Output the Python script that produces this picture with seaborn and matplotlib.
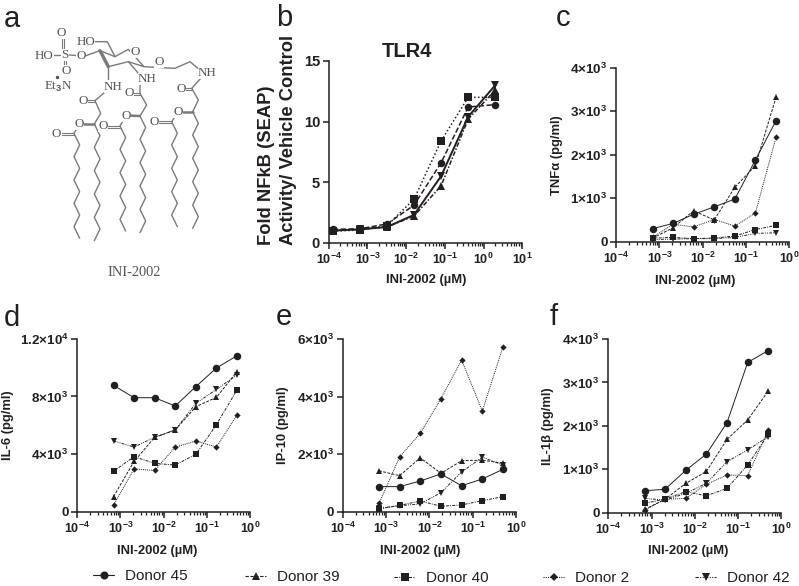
import matplotlib
matplotlib.use("Agg")
import matplotlib.pyplot as plt
import seaborn as sns
from matplotlib.lines import Line2D
from matplotlib.ticker import FixedLocator, NullFormatter

W, H = 799, 586
INK = "#231f20"
STRUCT = "#7a7a7a"

sns.set_theme(style="ticks")
plt.rcParams["font.family"] = ["Liberation Sans", "DejaVu Sans"]
plt.rcParams["mathtext.fontset"] = "custom"
plt.rcParams["mathtext.rm"] = "Liberation Sans:bold"
plt.rcParams["mathtext.default"] = "rm"

# ---- data ----
tlr4_dose = [1.28e-4, 6.4e-4, 3.2e-3, 1.6e-2, 8e-2, 0.4, 2.0]
tlr4_circle = [1.1, 1.15, 1.55, 3.1, 6.6, 11.2, 11.4]
tlr4_square = [0.95, 1.05, 1.4, 3.6, 8.4, 12.0, 12.0]
tlr4_up = [1.0, 1.1, 1.3, 2.2, 4.7, 10.2, 12.6]
tlr4_down = [1.0, 1.1, 1.3, 2.3, 5.5, 10.4, 13.0]

dose = [6.9e-4, 2.06e-3, 6.17e-3, 1.85e-2, 5.56e-2, 0.167, 0.5]
donors = ["Donor 45", "Donor 39", "Donor 40", "Donor 2", "Donor 42"]

tnf_45 = [300, 420, 630, 800, 980, 1880, 2780]
tnf_39 = [80, 320, 710, 500, 1250, 1750, 3320]
tnf_40 = [80, 100, 70, 85, 130, 280, 375]
tnf_2 = [100, 400, 340, 510, 360, 660, 2400]
tnf_42 = [50, 60, 70, 70, 100, 190, 205]

il6_45 = [8770, 7915, 7915, 7340, 8680, 9970, 10820]
il6_39 = [1060, 3500, 5170, 5680, 7290, 7940, 9720]
il6_40 = [2820, 3830, 3370, 3250, 3990, 6050, 8450]
il6_2 = [480, 2980, 2880, 4480, 4920, 4500, 6720]
il6_42 = [4920, 4500, 5170, 5680, 7520, 8490, 9490]

ip10_45 = [880, 880, 1075, 1320, 910, 1145, 1480]
ip10_39 = [1430, 1260, 1880, 1340, 1780, 1800, 1690]
ip10_40 = [105, 230, 380, 200, 245, 395, 530]
ip10_2 = [300, 1910, 2730, 3930, 5270, 3500, 5730]
ip10_42 = [130, 220, 280, 670, 1390, 1900, 1630]

il1b_45 = [505, 540, 975, 1350, 2075, 3460, 3735]
il1b_39 = [75, 310, 675, 950, 1690, 2135, 2805]
il1b_40 = [215, 315, 485, 390, 560, 1100, 1805]
il1b_2 = [60, 310, 330, 650, 870, 855, 1900]
il1b_42 = [330, 290, 445, 675, 1175, 1445, 1750]

# ---- styles ----
MARK = {"Donor 45": ("o", 5.4, "-"),
        "Donor 39": ("^", 4.9, (0, (3, 1.4))),
        "Donor 40": ("s", 4.7, (0, (3, 1.2, 1, 1.2))),
        "Donor 2": ("D", 3.2, (0, (1, 1))),
        "Donor 42": ("v", 4.9, (0, (3, 1.2, 1, 1.2, 1, 1.2)))}

fig = plt.figure(figsize=(W / 100, H / 100), dpi=100)
fig.patch.set_facecolor("white")


def make_ax(x0, x1, ytop, ybot):
    ax = fig.add_axes([x0 / W, 1 - ybot / H, (x1 - x0) / W, (ybot - ytop) / H])
    ax.set_facecolor("none")
    return ax


def style_ax(ax, box, xmax_exp, yticks, ylabels, ymax, ylabel, xlab_xy, ylab_x,
             xsize=9, ysize=9.7, labsize=9.4):
    x0, x1, ytop, ybot = box
    ax.set_xscale("log")
    ax.set_xlim(1e-4, 10.0 ** xmax_exp)
    ax.set_ylim(0, ymax)
    majors = [10.0 ** e for e in range(-4, xmax_exp + 1)]
    ax.xaxis.set_major_locator(FixedLocator(majors))
    ax.set_xticklabels([f"10$^{{{e}}}$" for e in range(-4, xmax_exp + 1)],
                        fontsize=xsize, fontweight="bold", color=INK)
    minors = [m * 10.0 ** e for e in range(-4, xmax_exp) for m in range(2, 10)]
    ax.xaxis.set_minor_locator(FixedLocator(minors))
    ax.xaxis.set_minor_formatter(NullFormatter())
    ax.set_yticks(yticks)
    ax.set_yticklabels(ylabels, fontsize=ysize, fontweight="bold", color=INK)
    sns.despine(ax=ax)
    for s in ("left", "bottom"):
        ax.spines[s].set_linewidth(1.1)
        ax.spines[s].set_color(INK)
    ax.tick_params(axis="both", which="major", length=4.2, width=1.1, color=INK, pad=2)
    ax.tick_params(axis="x", which="minor", length=2.3, width=0.9, color=INK)
    ax.set_xlabel("INI-2002 (µM)", fontsize=labsize, fontweight="bold", color=INK, va="center")
    ax.set_ylabel(ylabel, fontsize=labsize, fontweight="bold", color=INK, va="center")
    ax.xaxis.set_label_coords((xlab_xy[0] - x0) / (x1 - x0), -(xlab_xy[1] - ybot) / (ybot - ytop))
    ax.yaxis.set_label_coords((ylab_x - x0) / (x1 - x0), 0.5)


def draw(ax, xs, ys, name, lw=0.7):
    m, ms, ls = MARK[name]
    sns.lineplot(x=xs, y=ys, ax=ax, color=INK, marker=m, markersize=ms,
                 markeredgewidth=0, linewidth=lw, linestyle=ls, errorbar=None,
                 clip_on=False, zorder=3)


# ---- panel b ----
box_b = (328.7, 522.3, 61, 242.7)
ax_b = make_ax(*box_b)
ax_b.set_xscale("log")
sns.lineplot(x=tlr4_dose, y=tlr4_circle, ax=ax_b, color=INK, marker="o", markersize=5.4,
             markeredgewidth=0, linewidth=1.1, linestyle=(0, (3.5, 1.6)), errorbar=None, clip_on=False)
sns.lineplot(x=tlr4_dose, y=tlr4_square, ax=ax_b, color=INK, marker="s", markersize=5.4,
             markeredgewidth=0, linewidth=1.1, linestyle=(0, (1, 1.5)), errorbar=None, clip_on=False)
sns.lineplot(x=tlr4_dose, y=tlr4_up, ax=ax_b, color=INK, marker="^", markersize=5.4,
             markeredgewidth=0, linewidth=1.1, linestyle=(0, (3, 1.2, 1, 1.2)), errorbar=None, clip_on=False)
sns.lineplot(x=tlr4_dose, y=tlr4_down, ax=ax_b, color=INK, marker="v", markersize=5.4,
             markeredgewidth=0, linewidth=1.4, linestyle="-", errorbar=None, clip_on=False)
style_ax(ax_b, box_b, 1, [0, 5, 10, 15], ["0", "5", "10", "15"], 15,
         "Fold NFkB (SEAP)\nActivity/ Vehicle Control", (425.7, 280), 277,
         xsize=9, ysize=10.6)
ax_b.yaxis.label.set_size(13.2)
ax_b.yaxis.label.set_multialignment("left")
ax_b.yaxis.label.set_linespacing(1.4)
ax_b.yaxis.set_label_coords((277.5 - box_b[0]) / (box_b[1] - box_b[0]), (242.7 - 140) / 181.7)
ax_b.set_title("TLR4", fontsize=14.5, fontweight="bold", color=INK, pad=2, x=0.405)

# ---- panels c-f ----
panels = [
    ((616.3, 789, 67.7, 241.7), [tnf_45, tnf_39, tnf_40, tnf_2, tnf_42], 4000,
     [0, 1000, 2000, 3000, 4000], ["0", "1×10$^{3}$", "2×10$^{3}$", "3×10$^{3}$", "4×10$^{3}$"],
     "TNFα (pg/ml)", (695, 281), 557),
    ((77.3, 250, 338.7, 512), [il6_45, il6_39, il6_40, il6_2, il6_42], 12000,
     [0, 4000, 8000, 12000], ["0", "4×10$^{3}$", "8×10$^{3}$", "1.2×10$^{4}$"],
     "IL-6 (pg/ml)", (157, 551), 8),
    ((342.7, 516, 339, 512), [ip10_45, ip10_39, ip10_40, ip10_2, ip10_42], 6000,
     [0, 2000, 4000, 6000], ["0", "2×10$^{3}$", "4×10$^{3}$", "6×10$^{3}$"],
     "IP-10 (pg/ml)", (420, 551), 283),
    ((608.3, 781.3, 339, 512.7), [il1b_45, il1b_39, il1b_40, il1b_2, il1b_42], 4000,
     [0, 1000, 2000, 3000, 4000], ["0", "1×10$^{3}$", "2×10$^{3}$", "3×10$^{3}$", "4×10$^{3}$"],
     "IL-1β (pg/ml)", (688, 551), 548),
]
for box, series, ymax, ticks, labels, ylabel, xlab_xy, ylab_x in panels:
    ax = make_ax(*box)
    ax.set_xscale("log")
    for name, values in zip(donors, series):
        draw(ax, dose, values, name)
    style_ax(ax, box, 0, ticks, labels, ymax, ylabel, xlab_xy, ylab_x)

# ---- legend row (one legend per donor, slightly staggered as in the figure) ----
legend_pos = {"Donor 45": (93, 576), "Donor 39": (245, 577), "Donor 40": (394, 578.5),
              "Donor 2": (543, 578.5), "Donor 42": (695, 578)}
for name in donors:
    m, ms, ls = MARK[name]
    handle = Line2D([], [], color=INK, marker=m, markersize=ms + 0.4, markeredgewidth=0,
                    linewidth=0.8, linestyle=ls, label=name)
    px, py = legend_pos[name]
    lg = fig.legend(handles=[handle], loc="center left", frameon=False,
                    bbox_to_anchor=(px / W, 1 - py / H), borderaxespad=0, borderpad=0,
                    handlelength=1.4, handletextpad=0.7, fontsize=11)
    for t in lg.get_texts():
        t.set_color(INK)

# ---- panel letters ----
for letter, x, y in [("a", 4, 27), ("b", 276, 26), ("c", 556, 26),
                     ("d", 4, 326), ("e", 276, 325), ("f", 550, 325)]:
    fig.text(x / W, 1 - y / H, letter, fontsize=21, color=INK, ha="left", va="baseline")

# ---- panel a: chemical structure sketch ----
sk = fig.add_axes([0, 0, 1, 1], zorder=-1)
sk.set_xlim(0, W)
sk.set_ylim(H, 0)
sk.axis("off")


def seg(points, lw=1.0):
    sk.plot([p[0] / 3 for p in points], [p[1] / 3 for p in points],
            color=STRUCT, lw=lw, solid_capstyle="round", solid_joinstyle="round")


def atom(x, y, s, size=9.4):
    sk.text(x / 3, y / 3, s, fontsize=size, family="Liberation Serif", color="#555555",
            ha="center", va="center",
            bbox=dict(facecolor="white", edgecolor="none", pad=0.3))


def zigzag(x0, y0, n, dx=17, dy=35):
    pts = [(x0, y0)]
    for i in range(n):
        sign = 1 if i % 2 == 0 else -1
        pts.append((pts[-1][0] + sign * dx, pts[-1][1] + dy))
    seg(pts)


for x0, y0, n in [(222, 400, 9), (283, 372, 10), (360, 378, 9), (420, 348, 10),
                  (515, 365, 9), (578, 335, 10)]:
    zigzag(x0, y0, n)

# sugar ring and substituents
seg([(300, 152), (345, 170), (385, 148), (432, 200), (385, 185), (325, 200)])
seg([(300, 152), (325, 200)], lw=2.4)
seg([(345, 170), (322, 125), (285, 125)])
seg([(325, 200), (325, 250)])
seg([(320, 272), (285, 302), (302, 340), (283, 372)])
seg([(385, 185), (422, 228)])
seg([(420, 255), (420, 280), (440, 315), (420, 348)])
seg([(432, 200), (525, 205), (570, 185), (602, 212)])
seg([(605, 232), (575, 265), (595, 300), (578, 335)])
seg([(238, 372), (222, 400)])
seg([(378, 347), (360, 378)])
seg([(535, 335), (515, 365)])
seg([(252, 372), (283, 372)], lw=1.8)
seg([(392, 347), (420, 348)], lw=1.8)
seg([(548, 335), (578, 335)], lw=1.8)
for a, b in [((185, 402), (222, 402)), ((262, 303), (285, 303)), ((398, 281), (420, 281)),
             ((552, 267), (575, 267)), ((322, 380), (360, 380)), ((478, 367), (515, 367))]:
    seg([(a[0], a[1] - 3), (b[0], b[1] - 3)], lw=0.8)
    seg([(a[0], a[1] + 3), (b[0], b[1] + 3)], lw=0.8)
seg([(150, 165), (180, 165)])
seg([(208, 165), (232, 167)])
seg([(255, 168), (300, 152)])
for off in (-3, 3):
    seg([(190 + off, 115), (190 + off, 150)], lw=0.8)
    seg([(195 + off, 178), (195 + off, 200)], lw=0.8)

for x, y, s in [(185, 98, "O"), (195, 165, "S"), (132, 167, "HO"), (198, 213, "O"), (243, 168, "O"),
                (257, 125, "HO"), (405, 155, "O"), (478, 185, "O"), (622, 218, "NH"),
                (340, 260, "NH"), (442, 237, "NH"), (250, 303, "O"), (388, 280, "O"), (543, 267, "O"),
                (238, 372, "O"), (378, 347, "O"), (535, 335, "O"), (170, 402, "O"), (310, 378, "O"),
                (462, 366, "O")]:
    atom(x, y, s)
et3n = sk.text(175 / 3, 262 / 3, "Et$_{3}$N", fontsize=9.4, family="Liberation Serif", color="#555555",
               ha="center", va="center")
sk.plot([172 / 3], [230 / 3], marker="o", markersize=1.5, color="#555555")
sk.text(134, 273, "INI-2002", fontsize=10.4, family="Liberation Serif", color="#555555",
        ha="center", va="center")

fig.savefig("out.png", dpi=100)
